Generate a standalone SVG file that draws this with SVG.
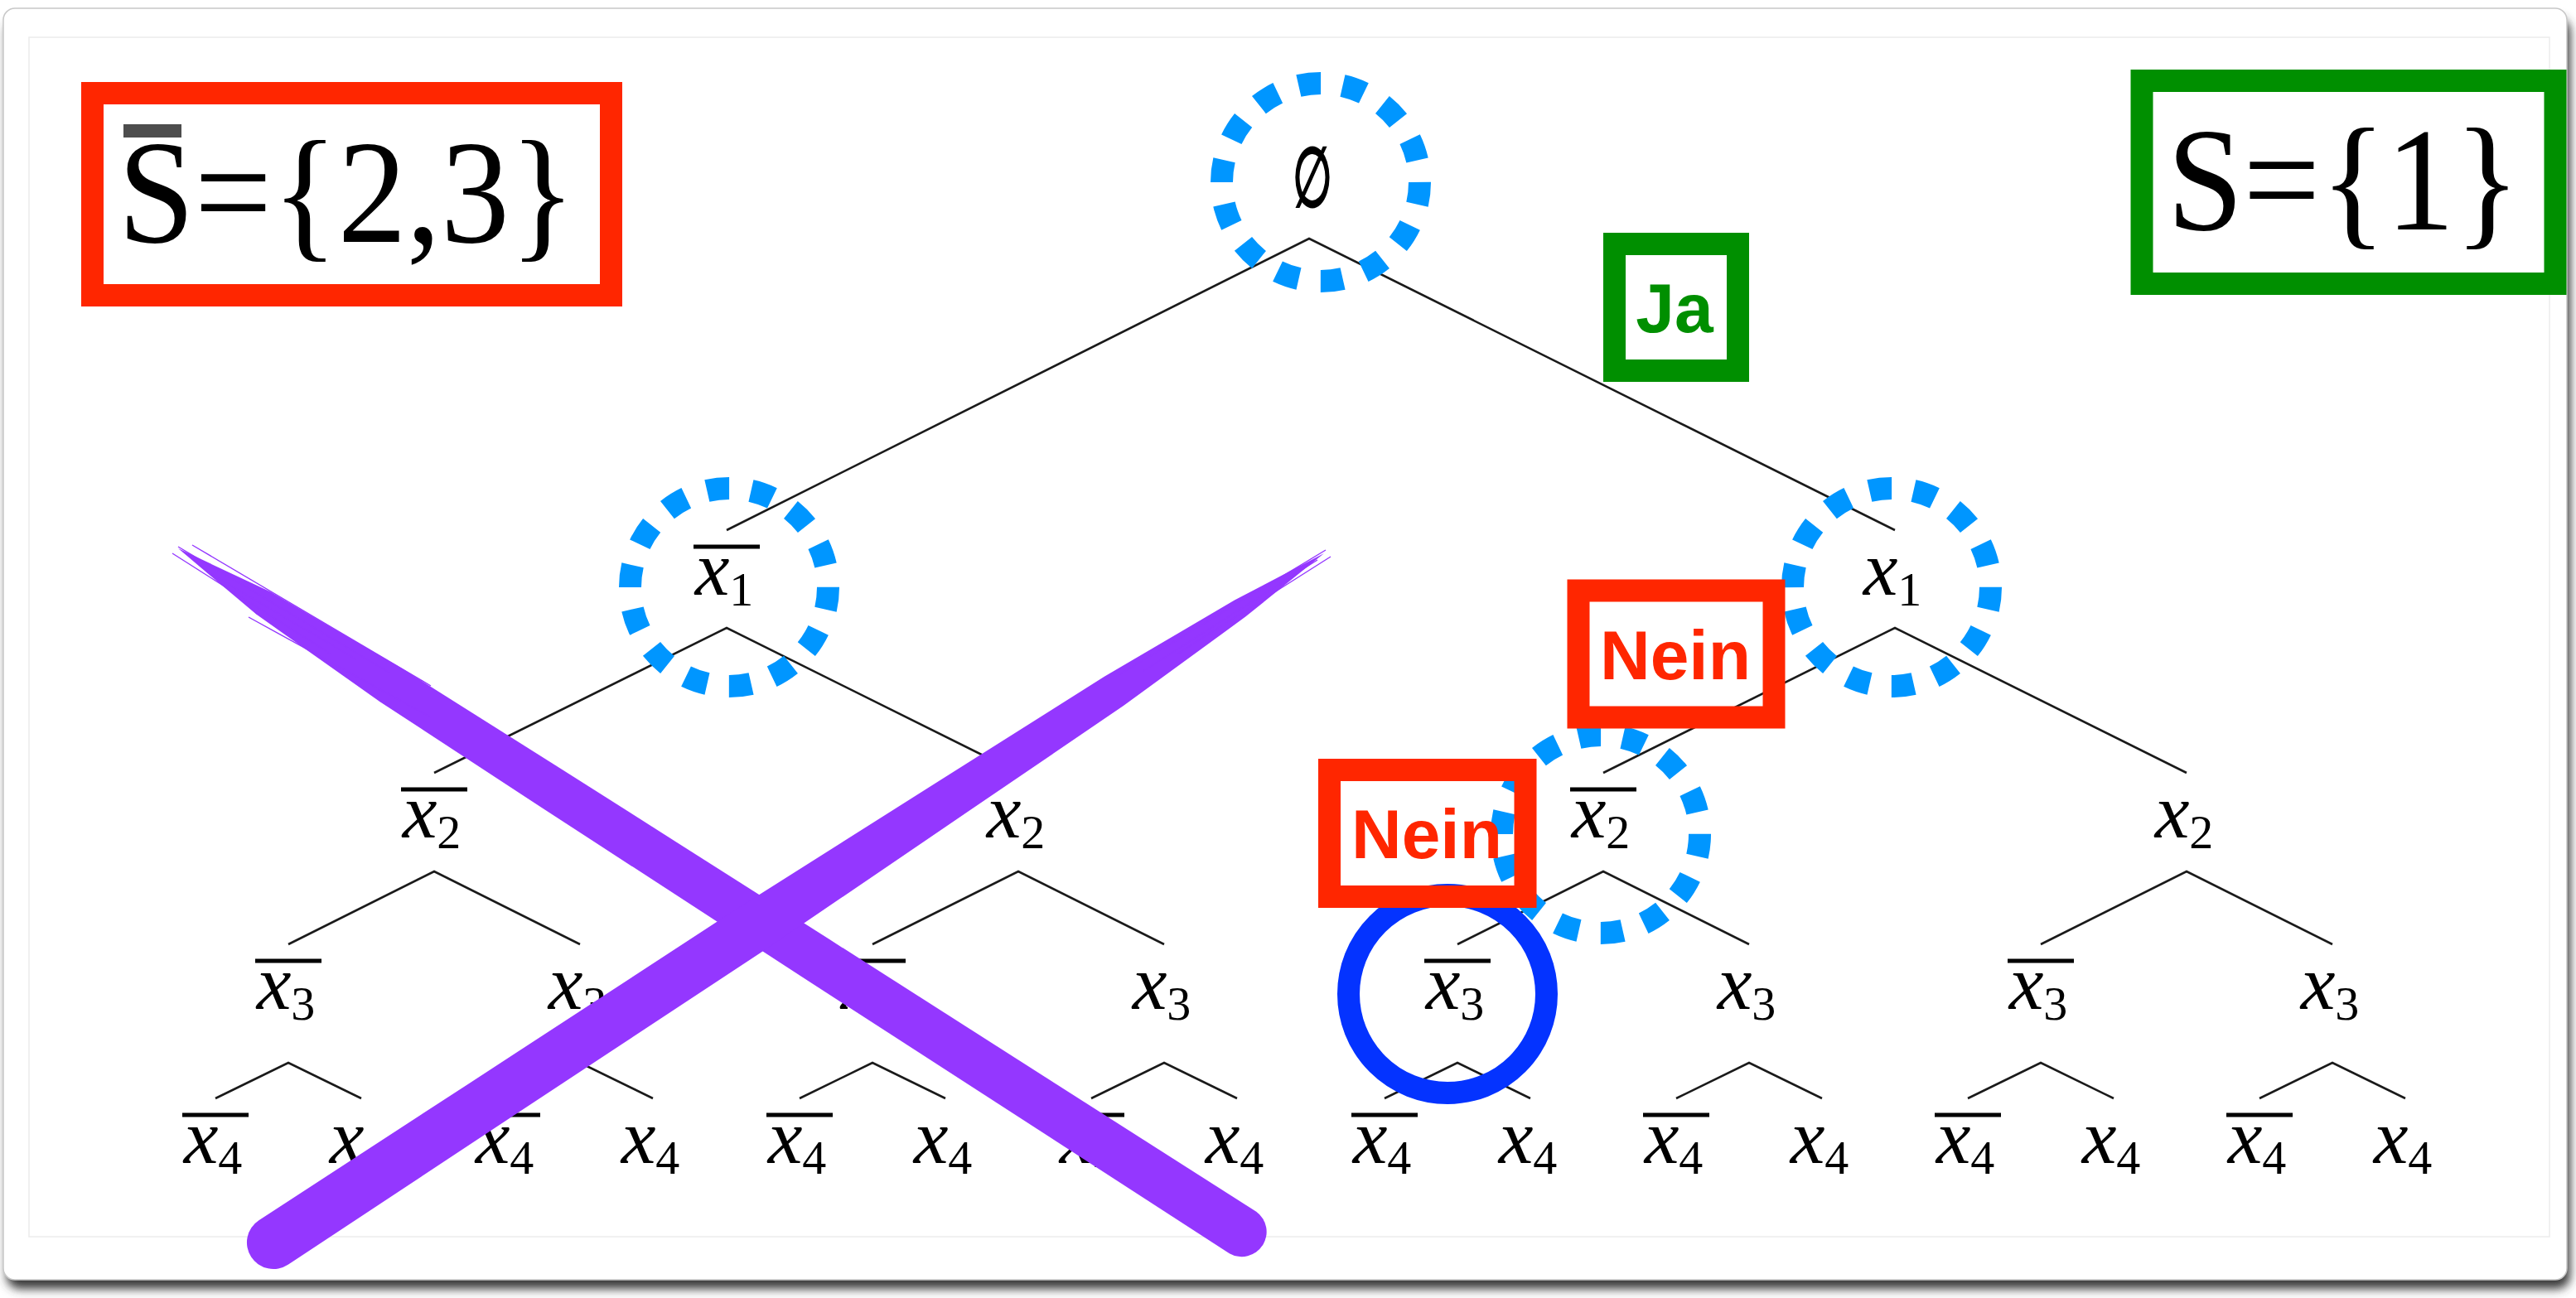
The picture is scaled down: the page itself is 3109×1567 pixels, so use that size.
<svg xmlns="http://www.w3.org/2000/svg" width="3109" height="1567" viewBox="0 0 3109 1567">
  <defs>
    <filter id="shadow" x="-2%" y="-2%" width="104%" height="106%">
      <feGaussianBlur stdDeviation="6"/>
    </filter>
    <style>
      .edge { fill: none; stroke: #1a1a1a; stroke-width: 2.6; stroke-linejoin: miter; }
      .lbl { font-family: 'Liberation Serif', 'Times New Roman', Times, serif; font-style: italic; font-size: 94px; fill: #000; text-anchor: middle; }
      .sub { font-style: normal; font-size: 58px; }
      .bar { fill: #000; }
      .dot { fill: none; stroke: #0096ff; stroke-width: 27; stroke-dasharray: 27 26.6; }
      .solid { fill: none; stroke: #0433ff; stroke-width: 27; }
      .redbox { fill: none; stroke: #ff2600; stroke-width: 27; }
      .greenbox { fill: none; stroke: #008f00; stroke-width: 27; }
      .tag { font-family: 'Liberation Sans', Arial, sans-serif; font-weight: bold; font-size: 84px; text-anchor: middle; }
      .set { font-family: 'Liberation Serif', 'Times New Roman', Times, serif; font-size: 178px; fill: #000; }
      .cross { fill: #9437ff; }
      .hair { fill: none; stroke: #9437ff; stroke-width: 1.4; }
    </style>
  </defs>

  <!-- page / card -->
  <rect x="0" y="0" width="3109" height="1567" fill="#ffffff"/>
  <rect x="8" y="22" width="3094" height="1534" rx="16" fill="#3a3a3a" filter="url(#shadow)"/>
  <rect x="4" y="10" width="3094" height="1535" rx="14" fill="#ffffff" stroke="#c8c8c8" stroke-width="1.5"/>
  <rect x="35" y="45" width="3042" height="1448" fill="none" stroke="#ececec" stroke-width="1.5"/>

  <!-- connectors -->
  <g id="connectors">
    <polyline class="edge" points="877,640 1580,288 2287,640"/>
    <polyline class="edge" points="524,933 877,758 1229,933"/>
    <polyline class="edge" points="1935,933 2287,758 2639,933"/>
    <polyline class="edge" points="348,1140 524,1052 700,1140"/>
    <polyline class="edge" points="1053,1140 1229,1052 1405,1140"/>
    <polyline class="edge" points="1759,1140 1935,1052 2111,1140"/>
    <polyline class="edge" points="2463,1140 2639,1052 2815,1140"/>
    <polyline class="edge" points="260,1326 348,1283 436,1326"/>
    <polyline class="edge" points="612,1326 700,1283 788,1326"/>
    <polyline class="edge" points="965,1326 1053,1283 1141,1326"/>
    <polyline class="edge" points="1317,1326 1405,1283 1493,1326"/>
    <polyline class="edge" points="1671,1326 1759,1283 1847,1326"/>
    <polyline class="edge" points="2023,1326 2111,1283 2199,1326"/>
    <polyline class="edge" points="2375,1326 2463,1283 2551,1326"/>
    <polyline class="edge" points="2727,1326 2815,1283 2903,1326"/>
  </g>

  <!-- root -->
  <g id="node-root">
    <text x="0" y="249" transform="translate(1584,0) scale(0.55,1)" font-family="'DejaVu Serif', 'Liberation Serif', serif" font-size="100" text-anchor="middle" fill="#000" stroke="#000" stroke-width="3">∅</text>
  </g>

  <!-- level 1 -->
  <g id="node-x1-neg"><rect class="bar" x="837" y="657.5" width="80" height="5"/><text class="lbl" x="874" y="718">x<tspan class="sub" dy="13">1</tspan></text></g>
  <g id="node-x1-pos"><text class="lbl" x="2284" y="718">x<tspan class="sub" dy="13">1</tspan></text></g>

  <!-- level 2 -->
  <g id="node-x2-a"><rect class="bar" x="484" y="950.5" width="80" height="5"/><text class="lbl" x="521" y="1011">x<tspan class="sub" dy="13">2</tspan></text></g>
  <g id="node-x2-b"><text class="lbl" x="1226" y="1011">x<tspan class="sub" dy="13">2</tspan></text></g>
  <g id="node-x2-c"><rect class="bar" x="1895" y="950.5" width="80" height="5"/><text class="lbl" x="1932" y="1011">x<tspan class="sub" dy="13">2</tspan></text></g>
  <g id="node-x2-d"><text class="lbl" x="2636" y="1011">x<tspan class="sub" dy="13">2</tspan></text></g>

  <!-- level 3 -->
  <g id="node-x3-a"><rect class="bar" x="308" y="1157.5" width="80" height="5"/><text class="lbl" x="345" y="1218">x<tspan class="sub" dy="13">3</tspan></text></g>
  <g id="node-x3-b"><text class="lbl" x="697" y="1218">x<tspan class="sub" dy="13">3</tspan></text></g>
  <g id="node-x3-c"><rect class="bar" x="1013" y="1157.5" width="80" height="5"/><text class="lbl" x="1050" y="1218">x<tspan class="sub" dy="13">3</tspan></text></g>
  <g id="node-x3-d"><text class="lbl" x="1402" y="1218">x<tspan class="sub" dy="13">3</tspan></text></g>
  <g id="node-x3-e"><rect class="bar" x="1719" y="1157.5" width="80" height="5"/><text class="lbl" x="1756" y="1218">x<tspan class="sub" dy="13">3</tspan></text></g>
  <g id="node-x3-f"><text class="lbl" x="2108" y="1218">x<tspan class="sub" dy="13">3</tspan></text></g>
  <g id="node-x3-g"><rect class="bar" x="2423" y="1157.5" width="80" height="5"/><text class="lbl" x="2460" y="1218">x<tspan class="sub" dy="13">3</tspan></text></g>
  <g id="node-x3-h"><text class="lbl" x="2812" y="1218">x<tspan class="sub" dy="13">3</tspan></text></g>

  <!-- level 4 -->
  <g id="node-x4-01"><rect class="bar" x="220" y="1343.5" width="80" height="5"/><text class="lbl" x="257" y="1404">x<tspan class="sub" dy="13">4</tspan></text></g>
  <g id="node-x4-02"><text class="lbl" x="433" y="1404">x<tspan class="sub" dy="13">4</tspan></text></g>
  <g id="node-x4-03"><rect class="bar" x="572" y="1343.5" width="80" height="5"/><text class="lbl" x="609" y="1404">x<tspan class="sub" dy="13">4</tspan></text></g>
  <g id="node-x4-04"><text class="lbl" x="785" y="1404">x<tspan class="sub" dy="13">4</tspan></text></g>
  <g id="node-x4-05"><rect class="bar" x="925" y="1343.5" width="80" height="5"/><text class="lbl" x="962" y="1404">x<tspan class="sub" dy="13">4</tspan></text></g>
  <g id="node-x4-06"><text class="lbl" x="1138" y="1404">x<tspan class="sub" dy="13">4</tspan></text></g>
  <g id="node-x4-07"><rect class="bar" x="1277" y="1343.5" width="80" height="5"/><text class="lbl" x="1314" y="1404">x<tspan class="sub" dy="13">4</tspan></text></g>
  <g id="node-x4-08"><text class="lbl" x="1490" y="1404">x<tspan class="sub" dy="13">4</tspan></text></g>
  <g id="node-x4-09"><rect class="bar" x="1631" y="1343.5" width="80" height="5"/><text class="lbl" x="1668" y="1404">x<tspan class="sub" dy="13">4</tspan></text></g>
  <g id="node-x4-10"><text class="lbl" x="1844" y="1404">x<tspan class="sub" dy="13">4</tspan></text></g>
  <g id="node-x4-11"><rect class="bar" x="1983" y="1343.5" width="80" height="5"/><text class="lbl" x="2020" y="1404">x<tspan class="sub" dy="13">4</tspan></text></g>
  <g id="node-x4-12"><text class="lbl" x="2196" y="1404">x<tspan class="sub" dy="13">4</tspan></text></g>
  <g id="node-x4-13"><rect class="bar" x="2335" y="1343.5" width="80" height="5"/><text class="lbl" x="2372" y="1404">x<tspan class="sub" dy="13">4</tspan></text></g>
  <g id="node-x4-14"><text class="lbl" x="2548" y="1404">x<tspan class="sub" dy="13">4</tspan></text></g>
  <g id="node-x4-15"><rect class="bar" x="2687" y="1343.5" width="80" height="5"/><text class="lbl" x="2724" y="1404">x<tspan class="sub" dy="13">4</tspan></text></g>
  <g id="node-x4-16"><text class="lbl" x="2900" y="1404">x<tspan class="sub" dy="13">4</tspan></text></g>

  <!-- highlight circles -->
  <g id="circles">
    <circle class="dot" cx="1594" cy="220" r="119.5"/>
    <circle class="dot" cx="880" cy="709" r="119.5"/>
    <circle class="dot" cx="2283" cy="709" r="119.5"/>
    <circle class="dot" cx="1932" cy="1007" r="119.5"/>
    <circle class="solid" cx="1747" cy="1200" r="119.5"/>
  </g>

  <!-- purple cross -->
  <g id="cross">
    <path class="cross" d="M215,662 L326.5,714.6 L485,807 L678.8,929.2 L1001.1,1134.1 L1516.2,1462.8 A30,30 0 0 1 1483.8,1513.2 L970.9,1181.2 L650.7,973 L459,847.4 L309.2,741.6 Z"/>
    <path class="cross" d="M1598,668 L1490,724.6 L1332.9,816.8 L1140.5,938.3 L884.1,1100.5 L566.6,1307.7 L312.4,1473.2 A32,32 0 0 0 347.6,1526.8 L600.6,1359.5 L917.1,1150.7 L1167.9,980.1 L1355.9,852 L1503.2,744.6 Z"/>
    <path class="hair" d="M215,660 L470,812 M208,668 L400,790 M232,658 L520,828 M250,690 L430,796 M300,745 L520,866 M1600,664 L1350,815 M1590,676 L1380,810 M1606,672 L1420,790"/>
  </g>

  <!-- label boxes -->
  <g id="box-sbar">
    <rect class="redbox" x="111.5" y="112.5" width="626" height="244"/>
    <rect x="149" y="150" width="70" height="16" fill="#4d4d4d"/>
    <text class="set" x="142.5" y="292" textLength="552" lengthAdjust="spacingAndGlyphs">S={2,3}</text>
  </g>
  <g id="box-s">
    <rect class="greenbox" x="2585" y="97.5" width="499" height="245"/>
    <text class="set" x="2615.5" y="277" textLength="426" lengthAdjust="spacingAndGlyphs">S={1}</text>
  </g>
  <g id="box-ja">
    <rect class="greenbox" x="1948.5" y="294.5" width="149" height="153"/>
    <text class="tag" x="2021" y="401" fill="#008f00">Ja</text>
  </g>
  <g id="box-nein-1">
    <rect class="redbox" x="1905" y="713" width="236" height="153"/>
    <text class="tag" x="2022" y="820" fill="#ff2600">Nein</text>
  </g>
  <g id="box-nein-2">
    <rect class="redbox" x="1604.5" y="929.5" width="236.5" height="153"/>
    <text class="tag" x="1722" y="1036" fill="#ff2600">Nein</text>
  </g>
</svg>
